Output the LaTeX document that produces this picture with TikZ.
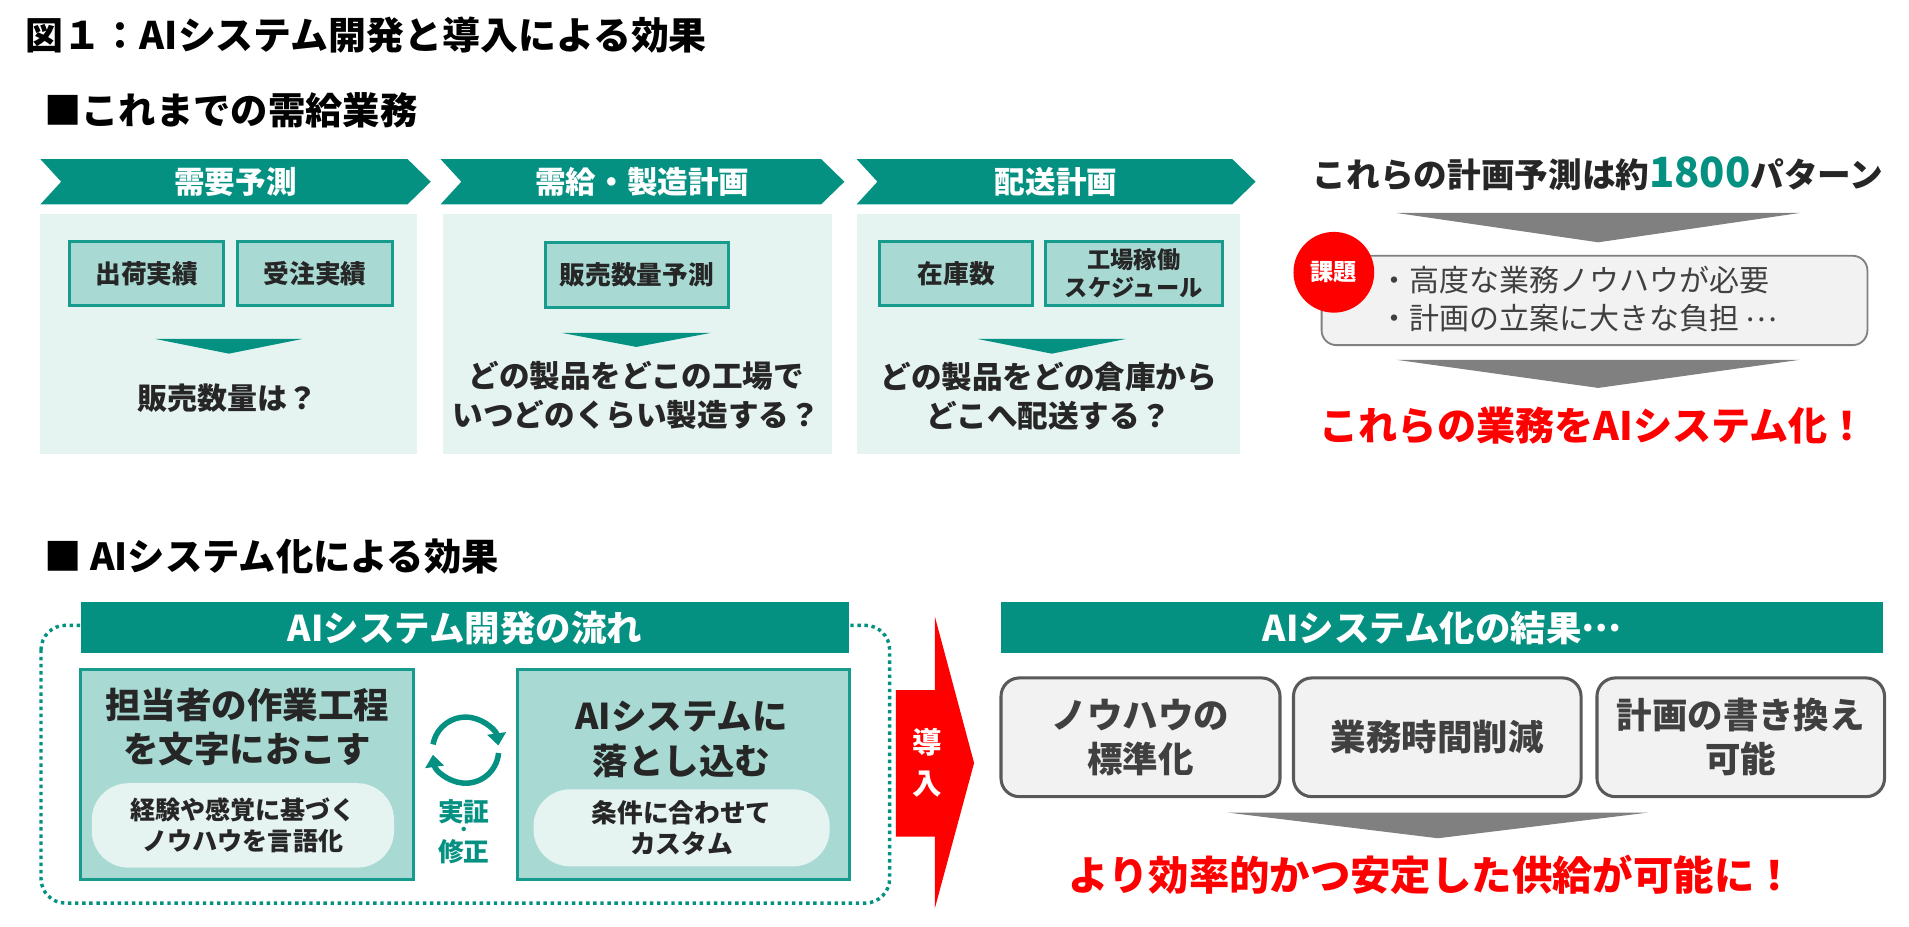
\documentclass[tikz,border=0pt]{standalone}
\usepackage{fontspec}
\setmainfont{Noto Sans CJK JP}
\usetikzlibrary{arrows.meta}

\newcommand\fsz[2]{\fontsize{#1}{#2}\selectfont}
\newcommand\midell{\raisebox{0.28em}{…}}

\definecolor{hteal}{RGB}{4,145,130}
\definecolor{mteal}{RGB}{168,218,211}
\definecolor{lteal}{RGB}{229,243,241}
\definecolor{tborder}{RGB}{22,155,140}
\definecolor{dtext}{RGB}{38,38,38}
\definecolor{gtext}{RGB}{64,64,64}
\definecolor{gfill}{RGB}{242,242,242}
\definecolor{gline}{RGB}{89,89,89}
\definecolor{garrow}{RGB}{128,128,128}

\tikzset{
  hdr/.style={fill=hteal, text=white, font=\bfseries\fsz{29}{35}, inner sep=0, minimum height=42},
  chevtext/.style={text=white, font=\bfseries\fsz{25}{30}},
  lightbox/.style={fill=lteal, inner sep=0},
  tealbox/.style={fill=mteal, draw=tborder, line width=2.5, inner sep=0, text=dtext, align=center},
  pill/.style={fill=lteal, rounded corners=30, inner sep=0, text=dtext, align=center},
  grbox/.style={fill=gfill, draw=gline, line width=2.5, rounded corners=15, inner sep=0,
    font=\bfseries\fsz{29}{36}, text=gtext, align=center},
  qtext/.style={font=\bfseries\fsz{25}{32}, text=dtext, align=center},
  redtext/.style={font=\bfseries\fsz{33}{38}, text=red},
  verifytext/.style={font=\bfseries\fsz{21}{24}, text=hteal, inner sep=0}
}

\begin{document}
\begin{tikzpicture}[x=1pt,y=-1pt]
\useasboundingbox (0,0) rectangle (1560,757);

% headings
\node[anchor=west, inner sep=0, font=\bfseries\fsz{31}{36}] (title) at (21,28.5) {図１：AIシステム開発と導入による効果};
\node[anchor=west, inner sep=0, font=\bfseries\fsz{30.5}{36}] (sec1) at (36,90) {■これまでの需給業務};
\node[anchor=west, inner sep=0, font=\bfseries\fsz{30.5}{36}] (sec2) at (36,455) {■ AIシステム化による効果};

% chevrons
\foreach \xa/\xb/\txt [count=\i] in {33/352/需要予測, 360/690/需給・製造計画, 700/1026/配送計画} {
  \fill[hteal] (\xa,130) -- ({\xb-19},130) -- (\xb,148.5) -- ({\xb-19},167) -- (\xa,167) -- ({\xa+17},148.5) -- cycle;
  \node[chevtext] (chev\i) at ({(\xa+\xb)/2},148.5) {\txt};
}

% planning boxes
\node[lightbox, minimum width=308, minimum height=196] (plan1) at (187,273) {};
\node[lightbox, minimum width=318, minimum height=196] (plan2) at (521,273) {};
\node[lightbox, minimum width=313, minimum height=196] (plan3) at (856.5,273) {};

\node[tealbox, font=\bfseries\fsz{21}{24}, minimum width=126, minimum height=53] (ship) at (120,223.5) {出荷実績};
\node[tealbox, font=\bfseries\fsz{21}{24}, minimum width=127, minimum height=53] (order) at (257.5,223.5) {受注実績};
\node[tealbox, font=\bfseries\fsz{21}{24}, minimum width=149, minimum height=53] (salesfc) at (520.5,224.5) {販売数量予測};
\node[tealbox, font=\bfseries\fsz{21}{24}, minimum width=125, minimum height=53] (stock) at (781.5,223.5) {在庫数};
\node[tealbox, font=\bfseries\fsz{19}{23}, minimum width=145, minimum height=53] (sched) at (926.5,223.5) {工場稼働\\スケジュール};

% down arrows
\foreach \cx/\ty/\hw/\hh/\col in {187/277/60/12/hteal, 520/272/61/11.5/hteal, 859.5/277/60.5/12/hteal,
    1306/174/165/24/garrow, 1306/294/165/23/garrow, 1175/664/172/21/garrow}
  \fill[\col] ({\cx-\hw},\ty) -- ({\cx+\hw},\ty) -- (\cx,{\ty+\hh}) -- cycle;

\node[qtext, font=\bfseries\fsz{24.5}{32}] (q1) at (186,325.5) {販売数量は？};
\node[qtext] (q2) at (520,323) {どの製品をどこの工場で\\いつどのくらい製造する？};
\node[qtext] (q3) at (857,324) {どの製品をどの倉庫から\\どこへ配送する？};

% right column
\node[font=\bfseries\fsz{27.5}{34}, text=dtext] (pat) at (1306,142) {これらの計画予測は約{\color{hteal}\fsz{34}{34}1800}パターン};
\node[fill=gfill, draw=garrow, line width=1.5, rounded corners=12, minimum width=446, minimum height=73] (kadaibox) at (1303,245.5) {};
\node[circle, fill=red, minimum size=66, inner sep=0, text=white, font=\bfseries\fsz{19}{22}] (kadai) at (1090,222.5) {課題};
\node[anchor=west, inner sep=0, font=\fsz{24.5}{31}, text=gtext, align=left] (issues) at (1127,244.5) {・高度な業務ノウハウが必要\\・計画の立案に大きな負担 \midell};
\node[redtext, font=\bfseries\fsz{32}{38}] (toai) at (1302,348) {これらの業務をAIシステム化！};

% development flow
\draw[hteal, line width=2.8, dash pattern=on 2.8pt off 3pt, rounded corners=20] (33.5,511) rectangle (727,738);
\node[hdr, minimum width=628] (flowhdr) at (380,513) {AIシステム開発の流れ};
\node[tealbox, minimum width=272, minimum height=172] (manual) at (202,633) {};
\node[font=\bfseries\fsz{29}{36}, text=dtext, align=center] (manualtxt) at (202,594) {担当者の作業工程\\を文字におこす};
\node[pill, font=\bfseries\fsz{20.5}{25}, minimum width=247, minimum height=69] (manualsub) at (198.5,674.5) {経験や感覚に基づく\\ノウハウを言語化};
\node[tealbox, minimum width=271, minimum height=172] (aisys) at (558.5,633) {};
\node[font=\bfseries\fsz{29}{36.5}, text=dtext, align=center] (aisystxt) at (557,604) {AIシステムに\\落とし込む};
\node[pill, font=\bfseries\fsz{21}{25.5}, minimum width=242, minimum height=63] (aisyssub) at (557,676.5) {条件に合わせて\\カスタム};

\coordinate (cyc) at (380.5,613);
\draw[hteal, line width=4.5, -{Triangle[length=10,width=15]}] ([shift={(170:27pt)}]cyc) arc[start angle=170, end angle=8, radius=27pt];
\draw[hteal, line width=4.5, -{Triangle[length=10,width=15]}] ([shift={(-5:27pt)}]cyc) arc[start angle=-5, end angle=-172, radius=27pt];
\node[verifytext] (verify) at (379,663) {実証};
\node[verifytext, font=\bfseries\fsz{13}{14}] (verifydot) at (379,679.5) {・};
\node[verifytext] (verify2) at (379,696) {修正};

% introduction arrow
\fill[red] (732,564) -- (764,564) -- (764,504) -- (796,623.5) -- (764,742) -- (764,683.6) -- (732,683.6) -- cycle;
\node[font=\bfseries\fsz{24}{33.5}, text=white, align=center] (intro) at (758,623) {導\\入};

% results
\node[hdr, minimum width=721] (reshdr) at (1178.5,513) {AIシステム化の結果\midell};
\node[grbox, minimum width=228, minimum height=97] (res1) at (932,602.5) {ノウハウの\\標準化};
\node[grbox, minimum width=235, minimum height=97] (res2) at (1174.5,602.5) {業務時間削減};
\node[grbox, minimum width=235, minimum height=97] (res3) at (1422.5,602.5) {計画の書き換え\\可能};
\node[redtext] (result) at (1170,714.5) {より効率的かつ安定した供給が可能に！};

\end{tikzpicture}
\end{document}
